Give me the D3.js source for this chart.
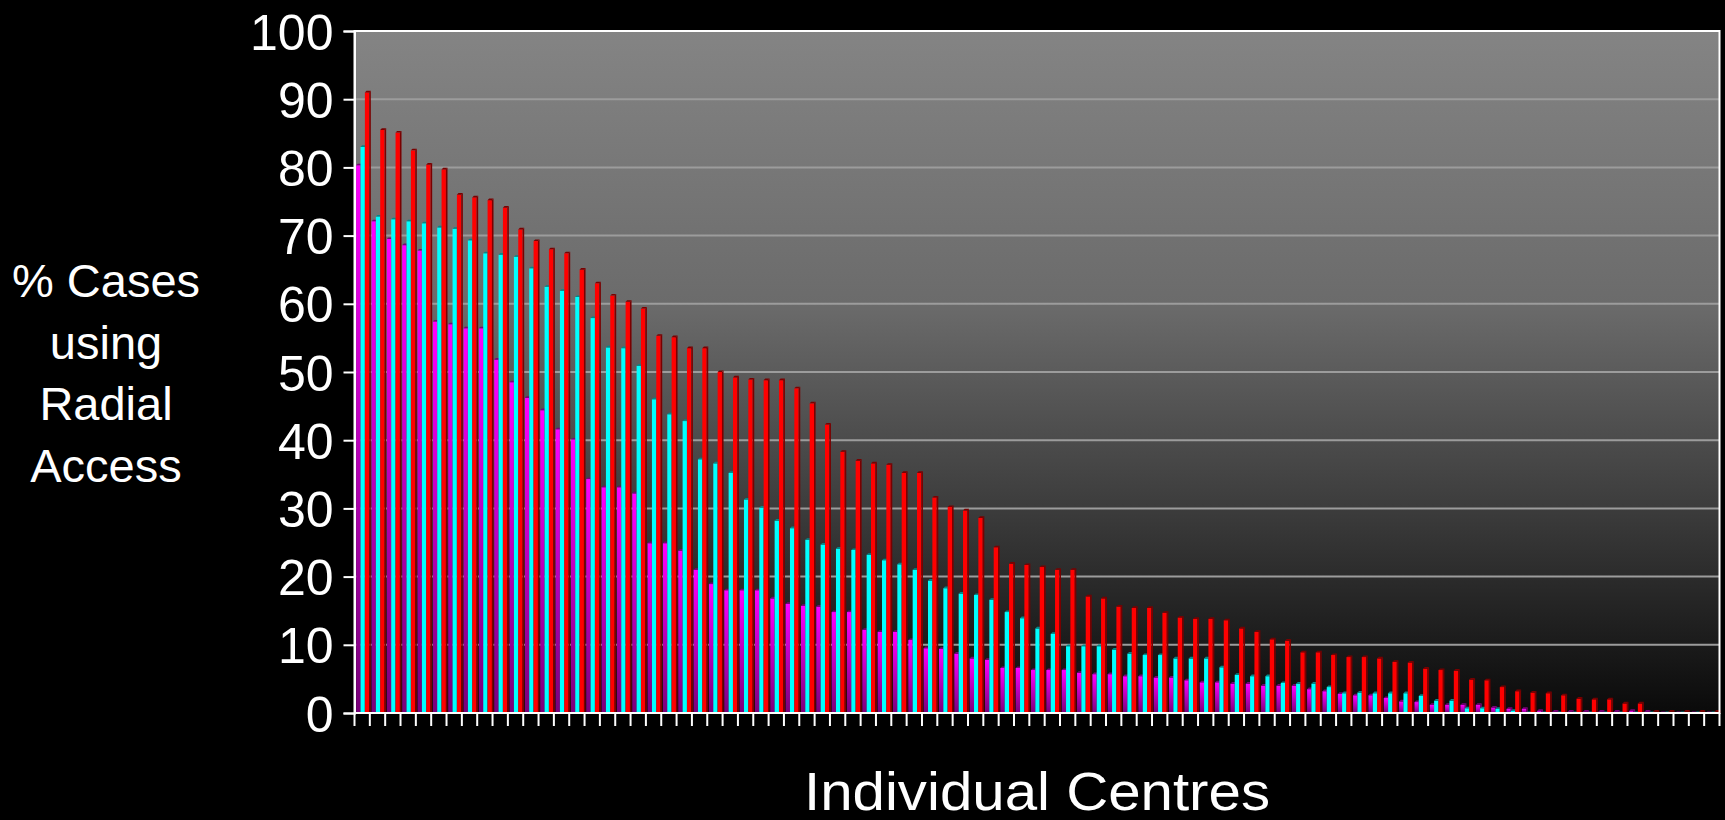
<!DOCTYPE html>
<html lang="en">

<head>
  <meta charset="utf-8">
  <title>Radial access by centre</title>
  <script src="https://d3js.org/d3.v7.min.js"></script>
  <style>
    html, body { margin: 0; padding: 0; background: #000; }
    svg { display: block; font-family: Arial, "Liberation Sans", sans-serif; }
  </style>
</head>

<body>
  <div id="chart">
  </div>
  <script>
    // % of cases per centre, each series sorted high -> low
    var magentaValues = [
      80.3, 72.1, 69.5, 68.6, 67.8, 57.4, 57.0, 56.4, 56.4, 51.8,
      48.5, 46.2, 44.4, 41.6, 40.1, 34.3, 33.1, 33.1, 32.2, 24.9,
      24.9, 23.8, 21.0, 18.9, 18.0, 18.0, 18.0, 16.8, 16.0, 15.7,
      15.6, 14.8, 14.8, 12.2, 11.9, 11.9, 10.7, 9.5, 9.4, 8.7,
      8.0, 7.8, 6.6, 6.6, 6.3, 6.3, 6.3, 5.9, 5.7, 5.7,
      5.4, 5.4, 5.2, 5.2, 4.8, 4.5, 4.5, 4.3, 4.3, 4.0,
      4.0, 4.0, 3.5, 3.2, 2.8, 2.6, 2.6, 2.2, 1.7, 1.6,
      1.2, 1.2, 1.2, 1.2, 0.8, 0.6, 0.6, 0.3, 0.2, 0.2,
      0.2, 0.2, 0.2, 0.3, 0.2, 0, 0, 0, 0
    ];
    var cyanValues = [
      83.0, 72.8, 72.4, 72.1, 71.8, 71.2, 71.0, 69.3, 67.4, 67.2,
      66.9, 65.2, 62.5, 61.9, 61.0, 57.9, 53.6, 53.5, 50.9, 46.0,
      43.8, 42.8, 37.2, 36.6, 35.2, 31.3, 30.1, 28.2, 27.1, 25.4,
      24.7, 24.1, 23.9, 23.2, 22.4, 21.8, 21.0, 19.4, 18.3, 17.5,
      17.3, 16.6, 14.8, 13.9, 12.4, 11.6, 9.8, 9.8, 9.8, 9.3,
      8.7, 8.5, 8.5, 8.0, 8.0, 8.0, 6.7, 5.6, 5.4, 5.4,
      4.4, 4.3, 4.3, 3.8, 2.9, 3.0, 2.9, 2.9, 2.9, 2.5,
      1.8, 1.8, 0.7, 0.7, 0.6, 0.3, 0, 0, 0, 0,
      0, 0, 0, 0, 0, 0, 0, 0, 0
    ];
    var redValues = [
      91.0, 85.5, 85.1, 82.5, 80.4, 79.7, 76.0, 75.6, 75.2, 74.1,
      70.9, 69.2, 68.0, 67.4, 65.0, 63.0, 61.2, 60.3, 59.3, 55.3,
      55.1, 53.5, 53.5, 50.0, 49.2, 48.9, 48.8, 48.8, 47.6, 45.4,
      42.3, 38.3, 37.0, 36.6, 36.4, 35.2, 35.2, 31.6, 30.2, 29.7,
      28.6, 24.3, 21.9, 21.7, 21.4, 21.0, 21.0, 17.1, 16.8, 15.6,
      15.4, 15.4, 14.7, 14.0, 13.8, 13.8, 13.6, 12.4, 11.9, 10.8,
      10.6, 8.9, 8.9, 8.5, 8.2, 8.2, 8.0, 7.5, 7.4, 6.5,
      6.3, 6.2, 4.9, 4.8, 3.8, 3.2, 3.0, 2.9, 2.6, 2.1,
      2.0, 2.0, 1.4, 1.4, 0.2, 0.2, 0.2, 0.2, 0.2
    ];
    // the centres are not named on the slide
    var centres = redValues.map(function(d, i) { return 'Centre ' + (i + 1); });
    var yTicks = [0, 10, 20, 30, 40, 50, 60, 70, 80, 90, 100];
    var yTitle = ['% Cases', 'using', 'Radial', 'Access'];
    var xTitle = 'Individual Centres';

    function draw() {
      var w = 1725, h = 820;
      var margin = {top: 31, right: 5.5, bottom: 107, left: 354.5};
      var innerW = w - margin.left - margin.right,
        innerH = h - margin.top - margin.bottom;

      var root = d3.select('#chart').append('svg')
        .attr('width', w)
        .attr('height', h);

      var defs = root.append('defs');
      var bg = defs.append('linearGradient').attr('id', 'bg')
        .attr('x1', 0).attr('y1', 0).attr('x2', 0).attr('y2', 1);
      [[0, '#848484'], [0.4, '#6b6b6b'], [0.7, '#3c3c3c'], [1, '#0a0a0a']].forEach(function(s) {
        bg.append('stop').attr('offset', s[0]).attr('stop-color', s[1]);
      });
      // magenta bars fade to purple towards their foot
      var mg = defs.append('linearGradient').attr('id', 'mg')
        .attr('x1', 0).attr('y1', 0).attr('x2', 0).attr('y2', 1);
      mg.append('stop').attr('offset', 0).attr('stop-color', '#ff00ff');
      mg.append('stop').attr('offset', 1).attr('stop-color', '#7a007a');

      var svg = root.append('g')
        .attr('transform', 'translate(' + [margin.left, margin.top] + ')');

      var slot = d3.scaleBand().domain(centres).range([0, innerW]);
      var step = slot.step();
      var series = [
        {key: 'magenta', values: magentaValues, fill: 'url(#mg)', dark: '#7a007a'},
        {key: 'cyan', values: cyanValues, fill: '#00ffff', dark: '#008a8a'},
        {key: 'red', values: redValues, fill: '#ff0000', dark: '#7a0000'}
      ];
      var inner = d3.scaleBand()
        .domain(series.map(function(s) { return s.key; }))
        .range([step * 0.11, step * 0.96]);
      var y = d3.scaleLinear().domain([0, 100]).range([innerH, 0]);

      svg.append('rect')
        .attr('width', innerW).attr('height', innerH)
        .attr('fill', 'url(#bg)');

      svg.selectAll('.grid')
        .data(yTicks.filter(function(t) { return t > 0 && t < 100; }))
        .enter().append('line')
          .attr('class', 'grid')
          .attr('x1', 0).attr('x2', innerW)
          .attr('y1', function(d) { return y(d); })
          .attr('y2', function(d) { return y(d); })
          .attr('stroke', '#9c9c9c')
          .attr('stroke-width', 2);

      var depth = 1.6;
      var bw = inner.bandwidth();

      series.forEach(function(s) {
        var g = svg.append('g').attr('class', 'series ' + s.key);
        var rows = s.values.map(function(v, i) { return {centre: centres[i], value: v}; });
        var bar = g.selectAll('.bar')
          .data(rows)
          .enter().append('g')
            .attr('class', 'bar')
            .attr('transform', function(d) { return 'translate(' + [slot(d.centre) + inner(s.key), 0] + ')'; });
        bar.append('rect')
          .attr('y', function(d) { return y(d.value); })
          .attr('width', bw)
          .attr('height', function(d) { return innerH - y(d.value); })
          .attr('fill', s.fill);
        // little 3d top and side
        bar.append('polygon')
          .attr('points', function(d) {
            var t = y(d.value);
            return [[0, t], [depth, t - depth], [bw + depth, t - depth], [bw, t]].join(' ');
          })
          .attr('fill', s.dark);
        bar.filter(function(d) { return d.value > 0; }).append('polygon')
          .attr('points', function(d) {
            var t = y(d.value);
            return [[bw, t], [bw + depth, t - depth], [bw + depth, innerH], [bw, innerH]].join(' ');
          })
          .attr('fill', s.dark);
      });

      // plot frame
      svg.append('rect')
        .attr('width', innerW).attr('height', innerH)
        .attr('fill', 'none')
        .attr('stroke', '#ffffff')
        .attr('stroke-width', 2);

      var yAxis = svg.append('g')
        .call(d3.axisLeft(y).tickValues(yTicks).tickSize(11).tickPadding(10));
      yAxis.select('.domain').attr('stroke', '#fff').attr('stroke-width', 2);
      yAxis.selectAll('.tick line').attr('stroke', '#fff').attr('stroke-width', 2);
      yAxis.selectAll('.tick text')
        .attr('fill', '#fff')
        .attr('font-size', 50)
        .attr('font-family', 'Arial, "Liberation Sans", sans-serif')
        .attr('dy', '0.36em');

      var xTickPos = centres.map(function(c) { return slot(c); }).concat([innerW]);
      svg.append('g').attr('class', 'x-ticks')
        .selectAll('line')
        .data(xTickPos)
        .enter().append('line')
          .attr('x1', function(d) { return d; })
          .attr('x2', function(d) { return d; })
          .attr('y1', innerH)
          .attr('y2', innerH + 13)
          .attr('stroke', '#fff')
          .attr('stroke-width', 2);
      svg.append('line')
        .attr('x1', 0).attr('x2', innerW)
        .attr('y1', innerH).attr('y2', innerH)
        .attr('stroke', '#fff').attr('stroke-width', 2);

      root.append('g').attr('class', 'y-title')
        .selectAll('text')
        .data(yTitle)
        .enter().append('text')
          .attr('x', 106)
          .attr('y', function(d, i) { return 297 + i * 61.7; })
          .attr('text-anchor', 'middle')
          .attr('fill', '#fff')
          .attr('font-size', 47)
          .text(function(d) { return d; });

      // the slide's title is a bit wider than the font alone gives
      root.append('text')
        .attr('x', margin.left + innerW / 2)
        .attr('y', 810)
        .attr('text-anchor', 'middle')
        .attr('fill', '#fff')
        .attr('font-size', 54)
        .attr('textLength', 466)
        .attr('lengthAdjust', 'spacingAndGlyphs')
        .text(xTitle);
    }

    draw();
  </script>
</body>

</html>
